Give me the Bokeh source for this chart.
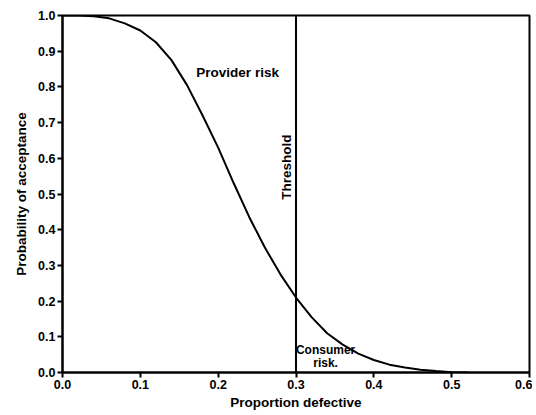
import math
from bokeh.plotting import figure
from bokeh.models import Label, FixedTicker
from bokeh.embed import file_html
from bokeh.resources import INLINE

# Operating characteristic curve
proportion_defective = [0.00, 0.02, 0.04, 0.06, 0.08, 0.10, 0.12, 0.14, 0.16, 0.18,
                        0.20, 0.22, 0.24, 0.26, 0.28, 0.30, 0.32, 0.34, 0.36, 0.38,
                        0.40, 0.42, 0.44, 0.46, 0.48, 0.50, 0.52]
prob_acceptance = [1.000, 1.000, 0.998, 0.992, 0.978, 0.958, 0.925, 0.875, 0.805, 0.720,
                   0.630, 0.530, 0.435, 0.350, 0.275, 0.210, 0.155, 0.110, 0.078, 0.053,
                   0.035, 0.022, 0.014, 0.008, 0.004, 0.001, 0.000]
threshold = [0.3]
x_ticks = [0.0, 0.1, 0.2, 0.3, 0.4, 0.5, 0.6]
y_ticks = [0.0, 0.1, 0.2, 0.3, 0.4, 0.5, 0.6, 0.7, 0.8, 0.9, 1.0]

FONT = "Liberation Sans"

p = figure(width=532, height=412, output_backend="svg", toolbar_location=None,
           x_range=(0, 0.6), y_range=(0, 1.0),
           min_border_left=62, min_border_right=3, min_border_top=15, min_border_bottom=40)
p.grid.visible = False
p.outline_line_color = "black"
p.outline_line_width = 2
p.background_fill_color = "white"
p.border_fill_color = "white"

p.line(proportion_defective, prob_acceptance, line_color="black", line_width=2)
p.segment(x0=threshold, y0=[0.0], x1=threshold, y1=[1.0], line_color="black", line_width=2)

for ax in (p.xaxis[0], p.yaxis[0]):
    ax.axis_line_width = 2
    ax.axis_line_color = "black"
    ax.major_tick_line_width = 2
    ax.major_tick_line_color = "black"
    ax.major_tick_out = 5
    ax.major_tick_in = 0
    ax.minor_tick_line_color = None
    ax.major_label_text_font = FONT
    ax.major_label_text_font_style = "bold"
    ax.major_label_text_font_size = "12.5px"
    ax.major_label_text_color = "black"
    ax.axis_label_text_font = FONT
    ax.axis_label_text_font_style = "bold"
    ax.axis_label_text_font_size = "13.5px"
    ax.axis_label_text_color = "black"
    ax.major_label_standoff = 2

p.xaxis[0].ticker = FixedTicker(ticks=x_ticks)
p.yaxis[0].ticker = FixedTicker(ticks=y_ticks)
p.xaxis[0].major_label_overrides = {t: f"{t:.1f}" for t in x_ticks}
p.yaxis[0].major_label_overrides = {t: f"{t:.1f}" for t in y_ticks}
p.xaxis[0].axis_label = "Proportion defective"
p.yaxis[0].axis_label = "Probability of acceptance"
p.xaxis[0].axis_label_standoff = 3
p.yaxis[0].axis_label_standoff = 6

common = dict(text_font=FONT, text_font_style="bold", text_color="black")
p.add_layout(Label(x=0.225, y=0.84, text="Provider risk", text_align="center",
                   text_baseline="middle", text_font_size="13.5px", **common))
p.add_layout(Label(x=threshold[0], y=0.575, x_offset=-2, text="Threshold", angle=math.pi / 2,
                   text_align="center", text_baseline="bottom", text_font_size="13.5px", **common))
p.add_layout(Label(x=0.338, y=0.064, text="Consumer", text_align="center",
                   text_baseline="middle", text_font_size="12px", **common))
p.add_layout(Label(x=0.338, y=0.027, text="risk.", text_align="center",
                   text_baseline="middle", text_font_size="12px", **common))

open("out.html", "w").write(file_html(p, INLINE))
